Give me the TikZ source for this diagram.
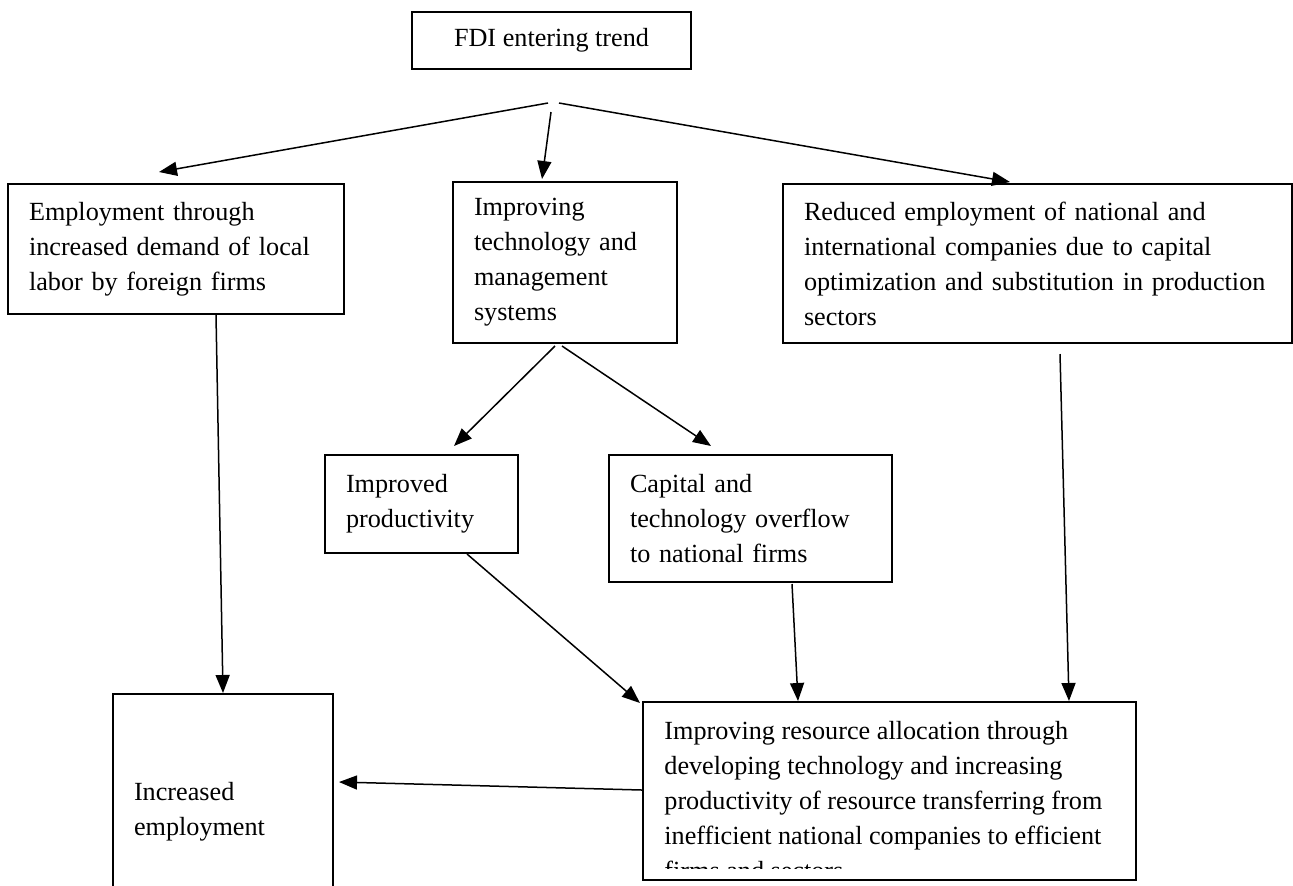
\documentclass[tikz,border=0pt]{standalone}
\usepackage{fontspec}
\setmainfont{Liberation Serif}
\usetikzlibrary{arrows.meta}
\begin{document}
\begin{tikzpicture}[x=0.5pt,y=-0.5pt,
  box/.style={draw,line width=1pt,inner xsep=10.5pt,align=left,font=\fontsize{13.1}{17.5}\selectfont},
  arr/.style={line width=0.75pt,-{Triangle[length=9pt,width=7pt]}}]
\useasboundingbox (0,0) rectangle (1293,885);
\clip (0,0) rectangle (1293,885);
\node[box,align=center,minimum width=139.5pt,minimum height=28.5pt] (fdi) at (551.5,40.5) {FDI entering trend};
\node[box,text width=147pt,minimum height=65pt] (labor) at (176,249) {Employment through\\increased demand of local\\labor by foreign firms};
\node[box,text width=91pt,minimum height=80.5pt] (tech) at (565,262.5) {Improving\\technology and\\management\\systems};
\node[box,text width=233.5pt,minimum height=79.5pt] (reduce) at (1037.5,263.5) {Reduced employment of national and\\international companies due to capital\\\mbox{optimization and substitution in production}\\sectors};
\node[box,text width=75.5pt,minimum height=49pt] (prod) at (421.5,504) {Improved\\productivity};
\node[box,text width=120.5pt,minimum height=63.5pt] (overflow) at (750.5,518.5) {Capital and\\technology overflow\\to national firms};
\node[box,text width=89pt,minimum height=118pt] (empl) at (223,812) {Increased\\employment};
\node[box,minimum width=246.5pt,minimum height=89pt] (alloc) at (889.5,791) {};
\begin{scope}
\clip (643,702) rectangle (1136,868);
\node[anchor=north west,inner sep=0pt,align=left,font=\fontsize{13.1}{17.5}\selectfont] (alloctext) at (664,721) {Improving resource allocation through\\developing technology and increasing\\productivity of resource transferring from\\inefficient national companies to efficient\\firms and sectors};
\end{scope}
\coordinate (fork) at (553,103);
\draw[arr] ([shift={(-5,0)}]fork) -- ([shift={(-17,-11)}]labor.north);
\draw[arr] ([shift={(-2,9)}]fork) -- ([shift={(-23,-2)}]tech.north);
\draw[arr] ([shift={(6,0)}]fork) -- ([shift={(-27.5,-1)}]reduce.north);
\draw[arr] ([shift={(40,0)}]labor.south) -- (empl.north);
\draw[arr] ([shift={(-10,2)}]tech.south) -- ([shift={(32.5,-8)}]prod.north);
\draw[arr] ([shift={(-3,2)}]tech.south) -- ([shift={(-39.5,-8)}]overflow.north);
\draw[arr] ([shift={(45.5,0)}]prod.south) -- ([shift={(-2,2)}]alloc.north west);
\draw[arr] ([shift={(41.5,1)}]overflow.south) -- ([shift={(-91.5,0)}]alloc.north);
\draw[arr] ([shift={(22.5,10)}]reduce.south) -- ([shift={(179.5,0)}]alloc.north);
\draw[arr] ([shift={(0,-1)}]alloc.west) -- ([shift={(5,-30)}]empl.east);
\end{tikzpicture}
\end{document}
